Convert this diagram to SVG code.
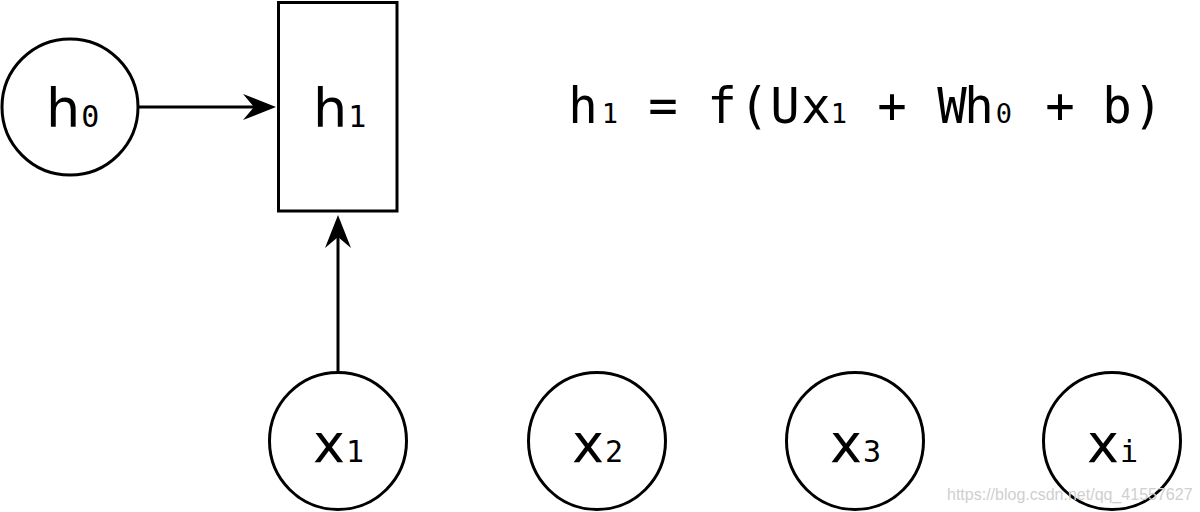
<svg xmlns="http://www.w3.org/2000/svg" width="1200" height="512" viewBox="0 0 1200 512">
  <style>
    .node { fill: #ffffff; stroke: #000000; stroke-width: 3; }
    .edge { fill: none; stroke: #000000; stroke-width: 3; }
    .lbl { font-family: "DejaVu Sans", sans-serif; font-size: 54px; fill: #000000; }
    .sub { font-family: "DejaVu Sans Mono", monospace; font-size: 30px; fill: #000000; }
    .eq { font-family: "DejaVu Sans Mono", monospace; font-size: 49px; fill: #000000; text-anchor: middle; }
    .eqsub { font-size: 27px; }
    .wm { font-family: "Liberation Sans", Arial, sans-serif; font-size: 16px; fill: #cfcfcf; }
  </style>
  <defs>
    <marker id="arrow" markerUnits="userSpaceOnUse" viewBox="-36 -15 38 30" refX="-16" refY="0" markerWidth="38" markerHeight="30" orient="auto">
      <path d="M0,0 L-33,-13 L-22,0 L-33,13 Z" fill="#000000"/>
    </marker>
  </defs>
  <rect width="1200" height="512" fill="#ffffff"/>

  <g id="connectors">
    <line class="edge" x1="139" y1="107" x2="260" y2="107" marker-end="url(#arrow)"/>
    <line class="edge" x1="338" y1="373" x2="338" y2="231" marker-end="url(#arrow)"/>
  </g>

  <g id="node-h0">
    <circle class="node" cx="70" cy="107" r="68"/>
    <text x="46" y="127"><tspan class="lbl">h</tspan><tspan class="sub" dx="1">0</tspan></text>
  </g>

  <g id="node-h1">
    <rect class="node" x="278.5" y="2.5" width="118.5" height="208.5"/>
    <text x="313" y="127"><tspan class="lbl">h</tspan><tspan class="sub" dx="1">1</tspan></text>
  </g>

  <g id="node-x1">
    <circle class="node" cx="338" cy="441" r="68.5"/>
    <text x="313" y="462"><tspan class="lbl">x</tspan><tspan class="sub" dx="1">1</tspan></text>
  </g>

  <g id="node-x2">
    <circle class="node" cx="597" cy="441" r="68.5"/>
    <text x="572" y="462"><tspan class="lbl">x</tspan><tspan class="sub" dx="1">2</tspan></text>
  </g>

  <g id="node-x3">
    <circle class="node" cx="855" cy="441" r="68.5"/>
    <text x="830" y="462"><tspan class="lbl">x</tspan><tspan class="sub" dx="1">3</tspan></text>
  </g>

  <g id="node-xi">
    <circle class="node" cx="1112" cy="441" r="68.5"/>
    <text x="1087" y="462"><tspan class="lbl">x</tspan><tspan class="sub" dx="1">i</tspan></text>
  </g>

  <g id="formula">
    <text y="123" class="eq"><tspan x="583">h</tspan><tspan class="eqsub" x="610">1</tspan><tspan x="663">=</tspan><tspan x="722">f</tspan><tspan x="754">(</tspan><tspan x="785">U</tspan><tspan x="816">x</tspan><tspan class="eqsub" x="839">1</tspan><tspan x="892">+</tspan><tspan x="952">W</tspan><tspan x="979">h</tspan><tspan class="eqsub" x="1004">0</tspan><tspan x="1060">+</tspan><tspan x="1117">b</tspan><tspan x="1148">)</tspan></text>
  </g>

  <text class="wm" x="947" y="500">https://blog.csdn.net/qq_41557627</text>
</svg>
